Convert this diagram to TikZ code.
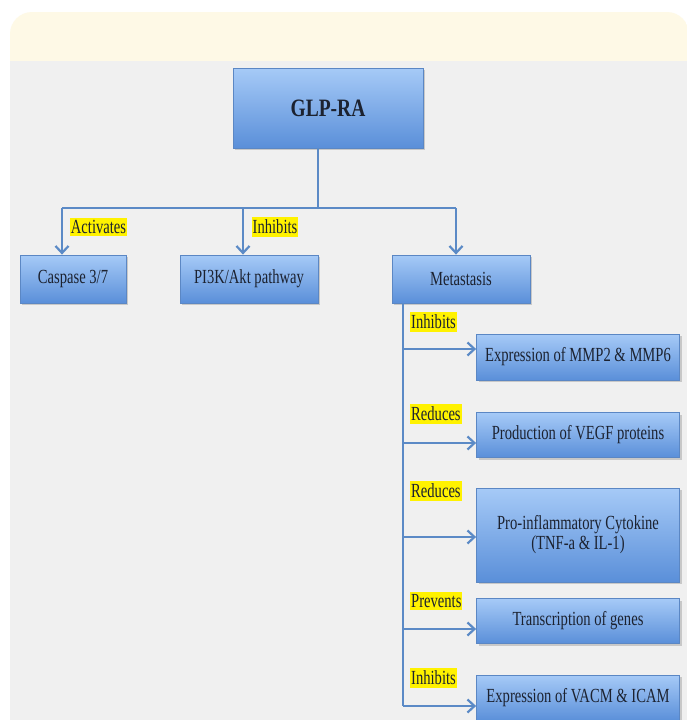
\documentclass[tikz,border=0pt]{standalone}
\usepackage{fontspec}
\usepackage{graphicx}
\setmainfont{Liberation Serif}
\usetikzlibrary{arrows.meta,shadows,calc}
\definecolor{bgcream}{HTML}{FEF9E6}
\definecolor{bggray}{HTML}{F0F0F0}
\definecolor{boxtop}{HTML}{A6CAF7}
\definecolor{boxbot}{HTML}{5A8FD9}
\definecolor{boxline}{HTML}{5B87C4}
\definecolor{connc}{HTML}{5B8AC6}
\definecolor{txt}{HTML}{1C2230}
\newcommand{\cz}[1]{\scalebox{0.73}[1]{#1}}
\tikzset{
  boxnode/.style={draw=boxline, line width=0.8pt, top color=boxtop, bottom color=boxbot,
    minimum width=#1, drop shadow={shadow xshift=2pt, shadow yshift=-2pt, opacity=0.35},
    font=\fontsize{20}{21}\selectfont, text=txt, align=center, inner sep=0pt},
  conn/.style={draw=connc, line width=2.8pt},
  arr/.style={conn, -{Straight Barb[length=7pt,width=13pt,line width=2.2pt]}},
  hl/.style={fill=yellow, inner xsep=1pt, inner ysep=2.5pt, text=txt, font=\fontsize{20}{21}\selectfont}
}
\begin{document}
\begin{tikzpicture}[x=1pt,y=-1pt]
\useasboundingbox (0,0) rectangle (687,720);
\fill[white] (0,0) rectangle (687,720);
\begin{scope}
  \clip[rounded corners=22pt] (10,12) rectangle (689,760);
  \fill[bgcream] (10,12) rectangle (689,61);
  \fill[bggray] (10,61) rectangle (689,760);
\end{scope}
% nodes
\node[boxnode=190pt, minimum height=80pt] (glp) at (328,108) {\fontsize{25}{27}\selectfont\bfseries\scalebox{0.78}[1]{GLP-RA}};
\node[boxnode=106pt, minimum height=48pt] (casp) at (73,279) {\cz{Caspase 3/7}};
\node[boxnode=138pt, minimum height=48pt] (pi3k) at (249,279) {\cz{PI3K/Akt pathway}};
\node[boxnode=138pt, minimum height=48pt] (meta) at (461,279) {\cz{Metastasis}};
\node[boxnode=203pt, minimum height=46pt] (b1) at (578,357) {\cz{Expression of MMP2 \& MMP6}};
\node[boxnode=203pt, minimum height=45pt] (b2) at (578,435) {\cz{Production of VEGF proteins}};
\node[boxnode=203pt, minimum height=94pt] (b3) at (578,535) {\cz{Pro-inflammatory Cytokine}\\[-1pt]\cz{(TNF-a \& IL-1)}};
\node[boxnode=203pt, minimum height=45pt] (b4) at (578,621) {\cz{Transcription of genes}};
\node[boxnode=203pt, minimum height=46pt] (b5) at (578,698) {\cz{Expression of VACM \& ICAM}};
% top connectors
\coordinate (hub) at (318,208);
\coordinate (jc) at (62,208);
\coordinate (jp) at (243,208);
\coordinate (jm) at (456,208);
\draw[conn] (glp.south -| hub) -- (hub);
\draw[conn] (jc) -- (jm);
\draw[arr] (jc) -- (jc |- casp.north);
\draw[arr] (jp) -- (jp |- pi3k.north);
\draw[arr] (jm) -- (jm |- meta.north);
\node[hl] (l1) at (98.5,227) {\cz{Activates}};
\node[hl] (l2) at (275,227) {\cz{Inhibits}};
% metastasis spine
\coordinate (s1) at (403,349);
\coordinate (s2) at (403,443);
\coordinate (s3) at (403,537);
\coordinate (s4) at (403,629);
\coordinate (s5) at (403,706);
\draw[conn] (meta.south -| s1) -- (s5);
\draw[arr] (s1) -- (s1 -| b1.west);
\draw[arr] (s2) -- (s2 -| b2.west);
\draw[arr] (s3) -- (s3 -| b3.west);
\draw[arr] (s4) -- (s4 -| b4.west);
\draw[arr] (s5) -- (s5 -| b5.west);
\node[hl, anchor=west] (m1) at (410,322) {\cz{Inhibits}};
\node[hl, anchor=west] (m2) at (410,414) {\cz{Reduces}};
\node[hl, anchor=west] (m3) at (410,491) {\cz{Reduces}};
\node[hl, anchor=west] (m4) at (410,601) {\cz{Prevents}};
\node[hl, anchor=west] (m5) at (410,678) {\cz{Inhibits}};
\end{tikzpicture}
\end{document}
